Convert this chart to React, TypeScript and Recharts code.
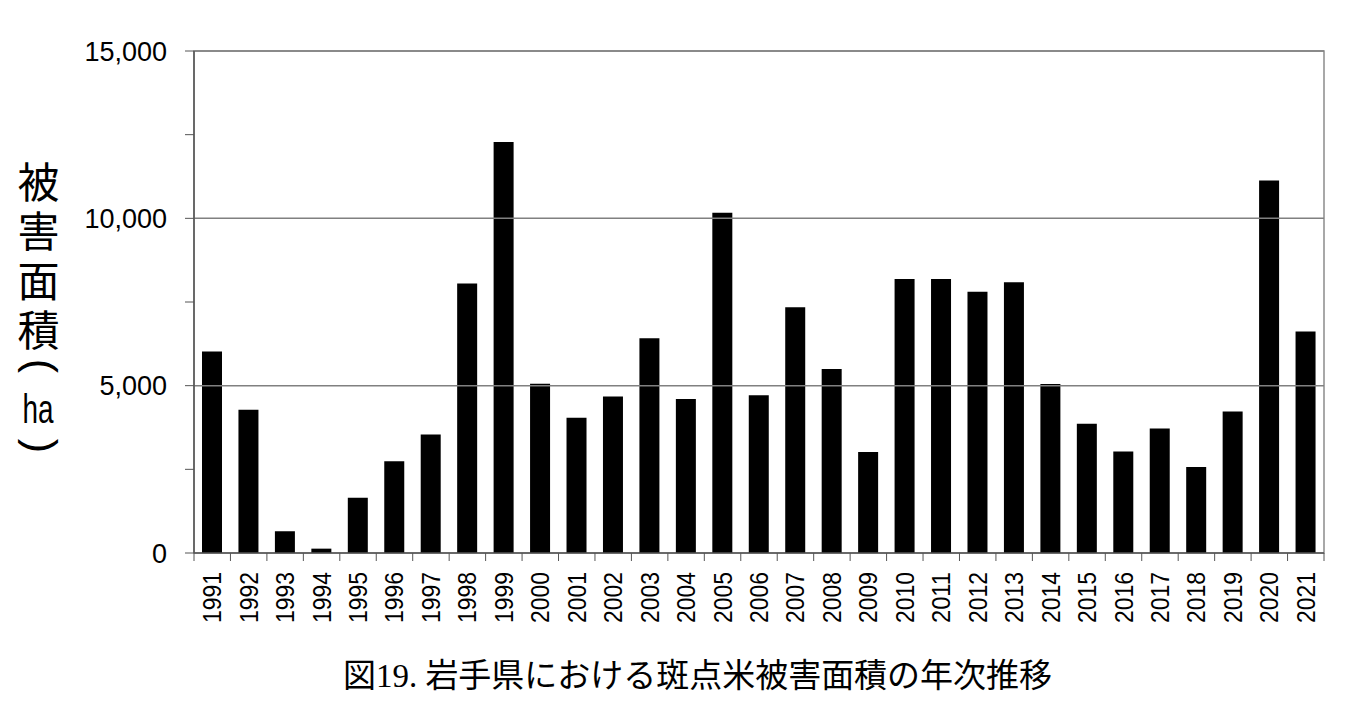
import { Bar, BarChart, ReferenceArea, ReferenceLine, XAxis, YAxis } from "recharts";

const years = [
  "1991", "1992", "1993", "1994", "1995", "1996", "1997", "1998", "1999", "2000",
  "2001", "2002", "2003", "2004", "2005", "2006", "2007", "2008", "2009", "2010",
  "2011", "2012", "2013", "2014", "2015", "2016", "2017", "2018", "2019", "2020",
  "2021",
];

// 被害面積 (ha)
const damageArea = [
  6020, 4280, 650, 130, 1650, 2740, 3540, 8050, 12280, 5060,
  4040, 4680, 6420, 4600, 10170, 4710, 7340, 5500, 3020, 8190,
  8190, 7810, 8090, 5050, 3860, 3030, 3720, 2570, 4230, 11130,
  6620,
];

const yTicks = [0, 2500, 5000, 7500, 10000, 12500, 15000];
const gridValues = [5000, 10000, 15000];

const yLabelWord = "被害面積";
const yLabelUnit = "ha";
const title = "図19. 岩手県における斑点米被害面積の年次推移";

const data = years.map((year, i) => ({ year, area: damageArea[i] }));

const AXIS = "#555555";
const GRID = "#808080";
const SANS = "'Liberation Sans', Arial, sans-serif";
const CJK = "'Noto Sans CJK JP', sans-serif";
const SERIF = "'Liberation Serif', 'Noto Sans CJK JP', serif";

function YearTick(props: any) {
  const { x, y, payload, index } = props;
  const half = payload?.offset ?? 18.2;
  const last = index === years.length - 1;
  return (
    <g>
      <line x1={x - half} y1={y} x2={x - half} y2={y + 8} stroke={AXIS} />
      {last && <line x1={x + half} y1={y} x2={x + half} y2={y + 8} stroke={AXIS} />}
      <text
        x={x}
        y={y + 19}
        transform={`rotate(-90, ${x}, ${y + 19})`}
        textAnchor="end"
        dominantBaseline="central"
        fontFamily={SANS}
        fontSize={26}
        textLength={51}
        lengthAdjust="spacingAndGlyphs"
        fill="#000"
      >
        {payload.value}
      </text>
    </g>
  );
}

// vertical-writing bracket: an ASCII paren turned 90° clockwise
function Paren({ ch, cx, cy }: { ch: string; cx: number; cy: number }) {
  return (
    <text
      x={cx}
      y={cy + 11}
      transform={`rotate(90, ${cx}, ${cy})`}
      textAnchor="middle"
      fontFamily={SANS}
      fontSize={43}
      fill="#000"
    >
      {ch}
    </text>
  );
}

export default function App() {
  return (
    <div style={{ position: "relative", width: 1349, height: 695 }}>
      <BarChart
        width={1349}
        height={695}
        data={data}
        margin={{ top: 43, right: 33, bottom: 90, left: 0 }}
      >
        <ReferenceArea y1={0} y2={15000} fill="none" stroke="#8c8c8c" strokeWidth={1.5} />
        {gridValues.map((v) => (
          <ReferenceLine key={v} y={v} stroke={GRID} strokeWidth={1.5} />
        ))}
        <XAxis
          dataKey="year"
          interval={0}
          height={60}
          tickLine={false}
          tickSize={0}
          tickMargin={0}
          axisLine={{ stroke: AXIS, strokeWidth: 1.5 }}
          tick={<YearTick />}
        />
        <YAxis
          width={186}
          domain={[0, 15000]}
          ticks={yTicks}
          interval={0}
          tickSize={9}
          tickMargin={18}
          tickLine={{ stroke: AXIS }}
          axisLine={{ stroke: AXIS, strokeWidth: 1.5 }}
          tick={{ fill: "#000", fontSize: 27, fontFamily: SANS }}
          tickFormatter={(v: number) => (v % 5000 === 0 ? v.toLocaleString("en-US") : "")}
        />
        <Bar dataKey="area" fill="#000" barSize={20} isAnimationActive={false} />
      </BarChart>
      <div
        style={{
          position: "absolute",
          left: 9,
          top: 153,
          writingMode: "vertical-rl",
          fontFamily: CJK,
          fontSize: 42,
          lineHeight: "42px",
          letterSpacing: "7.3px",
          color: "#000",
          whiteSpace: "nowrap",
        }}
      >
        {yLabelWord}
      </div>
      <svg
        width={1349}
        height={695}
        style={{ position: "absolute", left: 0, top: 0, pointerEvents: "none" }}
      >
        <Paren ch="(" cx={30} cy={358} />
        <text
          x={30}
          y={415}
          textAnchor="middle"
          fontFamily={SANS}
          fontSize={40}
          textLength={31}
          lengthAdjust="spacingAndGlyphs"
          fill="#000"
        >
          {yLabelUnit}
        </text>
        <Paren ch=")" cx={30} cy={438} />
        <text
          x={689.5}
          y={668}
          textAnchor="middle"
          dominantBaseline="central"
          fontFamily={SERIF}
          fontSize={33}
          textLength={709}
          lengthAdjust="spacing"
          fill="#000"
        >
          {title}
        </text>
      </svg>
    </div>
  );
}
